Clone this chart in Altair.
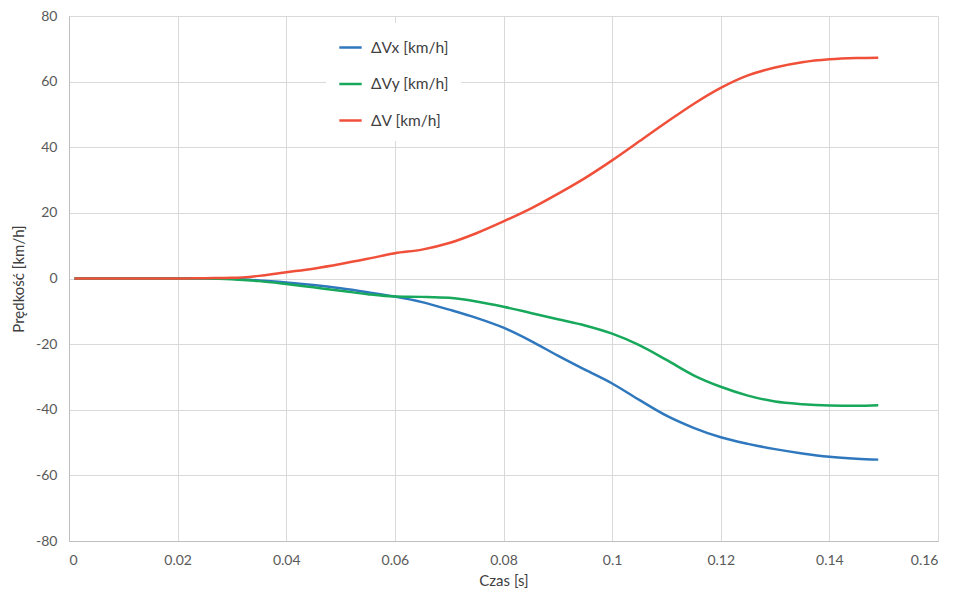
import altair as alt
import pandas as pd

t = [0.001, 0.005, 0.01, 0.015, 0.02, 0.025, 0.03, 0.035, 0.04, 0.045, 0.05, 0.055,
     0.06, 0.065, 0.07, 0.075, 0.08, 0.085, 0.09, 0.095, 0.1, 0.105, 0.11, 0.115,
     0.12, 0.125, 0.13, 0.135, 0.14, 0.145, 0.149]

dv = [0, 0, 0, 0, 0, 0.1, 0.2, 0.8, 1.9, 3.0, 4.4, 6.0, 7.7, 8.8, 10.8, 13.8, 17.4,
      21.3, 25.8, 30.6, 36.0, 41.8, 47.6, 53.2, 58.1, 61.9, 64.3, 65.9, 66.8, 67.2, 67.3]

dvx = [0, 0, 0, 0, 0, 0, -0.1, -0.6, -1.2, -2.0, -3.0, -4.2, -5.5, -7.2, -9.5, -12.0,
       -15.0, -19.0, -23.5, -27.8, -32.0, -37.0, -41.8, -45.5, -48.4, -50.4, -52.0,
       -53.3, -54.3, -54.9, -55.2]

dvy = [0, 0, 0, 0, 0, 0, -0.2, -0.8, -1.7, -2.7, -3.7, -4.8, -5.5, -5.6, -5.9, -7.0,
       -8.6, -10.5, -12.4, -14.3, -16.8, -20.3, -24.8, -29.5, -33.0, -35.7, -37.5,
       -38.3, -38.7, -38.8, -38.6]

series_names = ["ΔVx [km/h]", "ΔVy [km/h]", "ΔV [km/h]"]
series_colors = ["#2f78bd", "#17a85b", "#f0503a"]
x_ticks = [0, 0.02, 0.04, 0.06, 0.08, 0.1, 0.12, 0.14, 0.16]
y_ticks = [-80, -60, -40, -20, 0, 20, 40, 60, 80]

rows = []
for name, vals in zip(series_names, [dvx, dvy, dv]):
    for ti, vi in zip(t, vals):
        rows.append({"t": ti, "v": vi, "s": name})
df = pd.DataFrame(rows)

font = "Lato"

chart = alt.Chart(df).mark_line(strokeWidth=2.5, interpolate="monotone").encode(
    x=alt.X("t:Q", scale=alt.Scale(domain=[0, 0.16], nice=False),
            axis=alt.Axis(values=x_ticks, labelExpr="toString(datum.value)", title="Czas [s]",
                          grid=True, ticks=False, labelPadding=12, titlePadding=6)),
    y=alt.Y("v:Q", scale=alt.Scale(domain=[-80, 80], nice=False),
            axis=alt.Axis(values=y_ticks, labelExpr="toString(datum.value)",
                          title="Prędkość [km/h]",
                          grid=True, ticks=False, labelPadding=12, titlePadding=9)),
    color=alt.Color("s:N", scale=alt.Scale(domain=series_names, range=series_colors),
                    legend=alt.Legend(title=None, orient="none", legendX=257, legendY=7,
                                      symbolType="stroke", symbolStrokeWidth=2.5,
                                      symbolSize=500, labelFontSize=15.5, labelFont=font,
                                      labelColor="#404040", rowPadding=15.5, padding=12,
                                      fillColor="white", labelOffset=8)),
    order=alt.Order("t:Q"),
).properties(
    width=869, height=525,
    padding={"left": 61, "top": 8, "right": 10, "bottom": 50},
    autosize=alt.AutoSizeParams(type="none"),
).configure_axis(
    gridColor="#d9d9d9", domainColor="#bfbfbf", labelColor="#595959",
    titleColor="#404040", labelFont=font, titleFont=font, labelFontSize=14,
    titleFontSize=15, titleFontWeight="normal", domainWidth=1,
).configure_view(stroke=None)

chart.save("out.html", embed_options={"renderer": "svg", "actions": False})
